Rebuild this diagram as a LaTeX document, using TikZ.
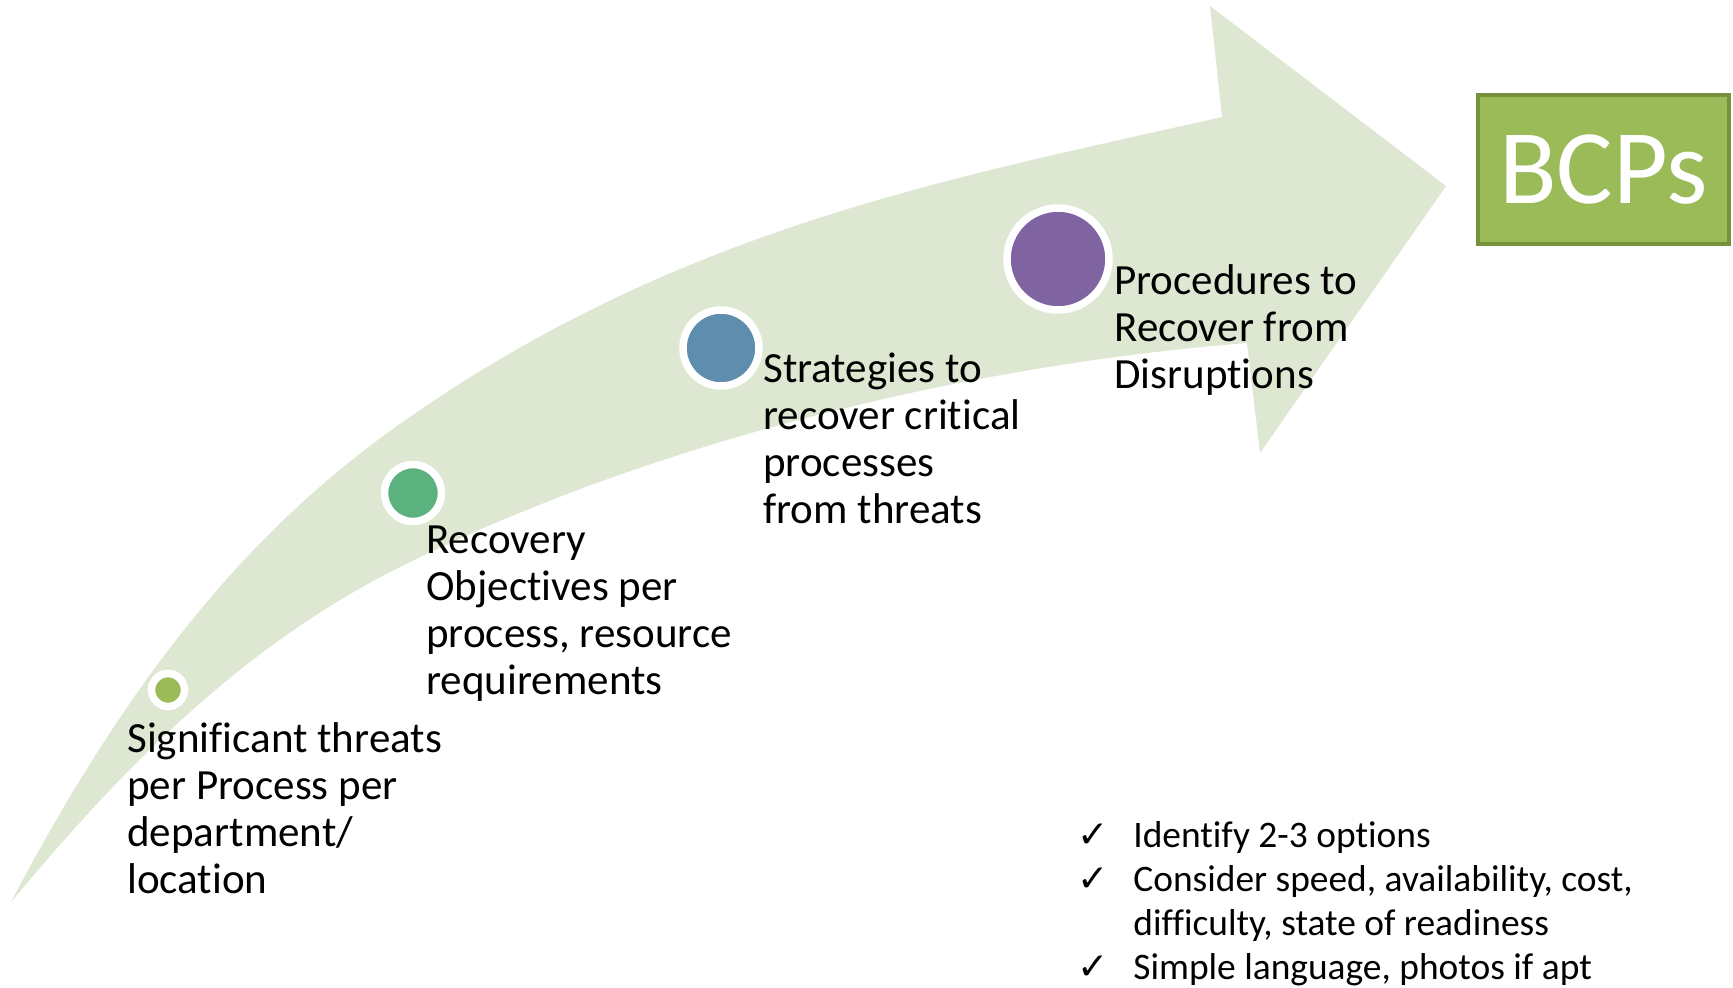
\documentclass[tikz,border=0pt]{standalone}
\usepackage{fontspec}
\setmainfont{Carlito}[Ligatures=NoCommon]
\newfontfamily\tickfont{DejaVu Sans}
\definecolor{BandGreen}{RGB}{222, 231, 209}
\definecolor{OliveGreen}{RGB}{155, 187, 89}
\definecolor{OliveDark}{RGB}{118, 146, 60}
\definecolor{SeaGreen}{RGB}{92, 178, 127}
\definecolor{SteelBlue}{RGB}{95, 141, 173}
\definecolor{Plum}{RGB}{128, 100, 162}
\usetikzlibrary{shadows}
\newcommand{\tickitem}{\makebox[1.12cm][l]{\tickfont\bfseries ✓}}

\begin{document}
\begin{tikzpicture}[x=0.02cm, y=-0.02cm,
    milestone/.style={circle, draw=white, line width=0.15cm, inner sep=0pt,
        drop shadow={shadow xshift=0.02cm, shadow yshift=-0.06cm, opacity=0.25}},
    steptext/.style={anchor=base west, align=left, inner sep=0pt,
        font=\fontsize{24.5}{26.7}\selectfont},
    listtext/.style={anchor=base west, align=left, inner sep=0pt,
        font=\fontsize{21.3}{25}\selectfont},
    bcpbox/.style={draw=OliveDark, fill=OliveGreen, line width=0.08cm,
        minimum width=5.02cm, minimum height=2.98cm, inner sep=0pt,
        text=white, text depth=0pt, font=\fontsize{60.3}{60}\selectfont}]
            \useasboundingbox (0,0) rectangle (1733,987);

            % Curved arrow band
            \fill[BandGreen] (11,902) .. controls (151,636) and (280,505) .. (420,410)
                .. controls (690,226) and (952,178) .. (1222,117)
                -- (1210,6) -- (1446,186) -- (1260,453) -- (1247,343)
                .. controls (967,365) and (650,442) .. (400,567)
                .. controls (240,647) and (121,770) .. (11,902) -- cycle;

            % Milestones
            \foreach \name/\x/\y/\col/\d in {m1/168/690/OliveGreen/0.66, m2/413/493/SeaGreen/1.14, m3/721/348/SteelBlue/1.52, m4/1058/259/Plum/2.04} {
                \node[milestone, fill=\col, minimum size=\d cm] (\name) at (\x,\y) {};
            }

            % Labels (anchored on the last line)
            \node[steptext] (t1) at (127,893) {Significant threats\\per Process per\\department/\\location};
            \node[steptext] (t2) at (426,694) {Recovery\\Objectives per\\process, resource\\requirements};
            \node[steptext] (t3) at (763,523) {Strategies to\\recover critical\\processes\\from threats};
            \node[steptext] (t4) at (1114,388) {Procedures to\\Recover from\\Disruptions};

            % Result
            \node[bcpbox] (bcps) at (1603.5,169.5) {BCPs};

            % Checklist
            \node[listtext] (checks) at (1077,979) {\tickitem Identify 2-3 options\\
                \tickitem Consider speed, availability, cost,\\
                \hspace*{1.12cm}difficulty, state of readiness\\
                \tickitem Simple language, photos if apt};
        \end{tikzpicture}
\end{document}
